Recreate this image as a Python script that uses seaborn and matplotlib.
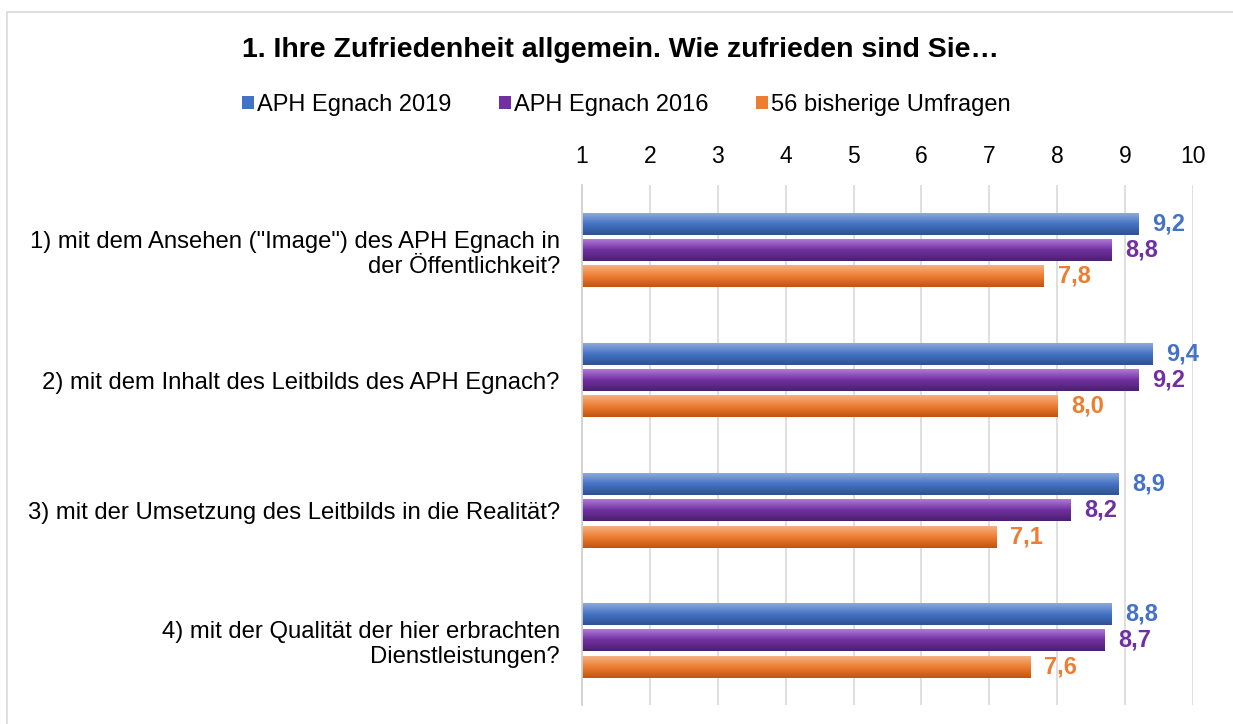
import numpy as np
import pandas as pd
import seaborn as sns
import matplotlib.pyplot as plt
from matplotlib.colors import LinearSegmentedColormap
from matplotlib.patches import Rectangle, Patch

TITLE = "1. Ihre Zufriedenheit allgemein. Wie zufrieden sind Sie…"

questions = [
    '1) mit dem Ansehen ("Image") des APH Egnach in\nder Öffentlichkeit?',
    "2) mit dem Inhalt des Leitbilds des APH Egnach?",
    "3) mit der Umsetzung des Leitbilds in die Realität?",
    "4) mit der Qualität der hier erbrachten\nDienstleistungen?",
]
series = ["APH Egnach 2019", "APH Egnach 2016", "56 bisherige Umfragen"]
aph_2019 = [9.2, 9.4, 8.9, 8.8]
aph_2016 = [8.8, 9.2, 8.2, 8.7]
bisherige = [7.8, 8.0, 7.1, 7.6]
x_ticks = list(range(1, 11))

# colours: (top, mid, bottom) of the gradient, mid is used for labels/legend
colors = {
    "APH Egnach 2019": ("#8eaadb", "#4472c4", "#2e5190"),
    "APH Egnach 2016": ("#b07ad6", "#7030a0", "#4b1f6e"),
    "56 bisherige Umfragen": ("#f5b286", "#ed7d31", "#bf5510"),
}

df = pd.DataFrame({
    "Frage": questions * 3,
    "Serie": np.repeat(series, len(questions)),
    "Wert": aph_2019 + aph_2016 + bisherige,
})

sns.set_theme(style="white")
plt.rcParams["font.family"] = ["Liberation Sans", "DejaVu Sans"]
plt.rcParams["text.color"] = "black"

XMIN, XMAX = 1, 10

fig = plt.figure(figsize=(12.33, 7.24), dpi=100)
ax = fig.add_axes([0.472, 0.026, 0.4956, 0.7185])

sns.barplot(
    data=df, x="Wert", y="Frage", hue="Serie", orient="h",
    palette={k: v[1] for k, v in colors.items()},
    width=0.61, gap=0.17, ax=ax, legend=False,
)

# gradient fill on each bar
grad = np.linspace(0, 1, 256).reshape(-1, 1)
for name, cont in zip(series, ax.containers):
    top, mid, bot = colors[name]
    cmap = LinearSegmentedColormap.from_list(name, [top, mid, bot])
    for bar in cont:
        x0, y0 = bar.get_x(), bar.get_y()
        w, h = bar.get_width(), bar.get_height()
        ax.imshow(grad, cmap=cmap, aspect="auto",
                  extent=[max(x0, XMIN), x0 + w, y0 + h, y0], zorder=2)
        bar.set_facecolor("none")
        bar.set_edgecolor("none")
    labels = [f"{v:.1f}".replace(".", ",") for v in cont.datavalues]
    ax.bar_label(cont, labels=labels, padding=10, color=mid,
                 fontsize=17, fontweight="bold")

ax.set_xlim(XMIN, XMAX)
ax.set_ylim(3.5, -0.5)
ax.set_xticks(x_ticks)
ax.xaxis.tick_top()
ax.tick_params(axis="x", length=0, pad=12, labelsize=16.5, colors="black")
ax.tick_params(axis="y", which="major", length=0, pad=16, labelsize=17.2,
               colors="black")
ax.set_yticks(np.arange(-0.5, 4, 1), minor=True)
ax.tick_params(axis="y", which="minor", length=6, color="#d0d0d0", width=1)
for lbl in ax.get_yticklabels():
    lbl.set_multialignment("right")
ax.set_xlabel("")
ax.set_ylabel("")
ax.grid(axis="x", color="#d9d9d9", linewidth=1.2)
ax.set_axisbelow(True)
for side in ["top", "right", "bottom"]:
    ax.spines[side].set_visible(False)
ax.spines["left"].set_color("#d0d0d0")

handles = [Patch(facecolor=colors[s][1], edgecolor="none") for s in series]
fig.legend(handles, series, loc="center", bbox_to_anchor=(0.508, 0.855),
           ncol=3, frameon=False, fontsize=17, handlelength=0.5,
           handleheight=0.5, handletextpad=0.15, columnspacing=2.0)

fig.text(0.503, 0.931, TITLE, ha="center", va="center",
         fontsize=20.5, fontweight="bold")

fig.patches.append(Rectangle((7 / 1233, -0.01), 1.02, 1 - 12 / 724 + 0.01,
                             transform=fig.transFigure, fill=False,
                             edgecolor="#d9d9d9", linewidth=1.2))

fig.savefig("out.png", dpi=100)
